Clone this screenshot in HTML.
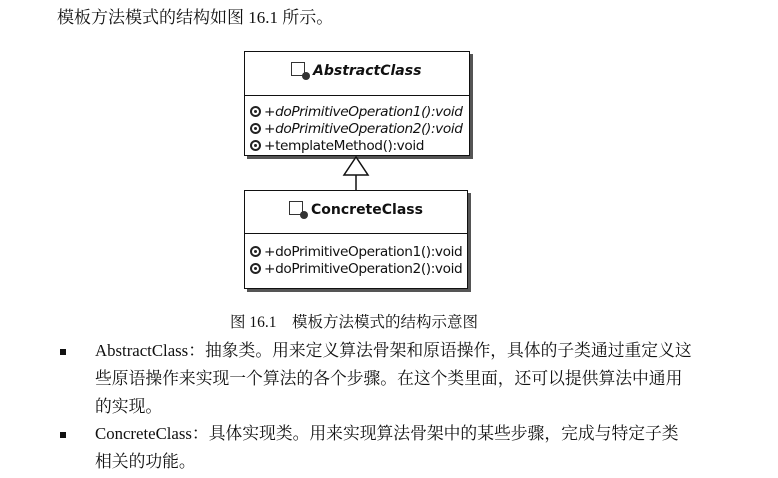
<!DOCTYPE html>
<html><head><meta charset="utf-8"><style>
body{margin:0;width:778px;height:478px;background:#fff;position:relative;overflow:hidden;font-family:"Liberation Serif","Noto Serif CJK SC",serif;color:#111}
.t{position:absolute;white-space:nowrap;font-size:16.8px}
.box{position:absolute;border:1.5px solid #111;background:#fff;box-shadow:3px 3px 0 #555}
.div{position:absolute;left:0;right:0;border-top:1.5px solid #111}
.uml{position:absolute;font-family:"DejaVu Sans",sans-serif;font-size:13.7px;white-space:nowrap;letter-spacing:-0.4px}
.ic{display:inline-block;width:11px;height:11px;border:2.5px solid #222;border-radius:50%;vertical-align:-1px;margin-right:3px;box-sizing:border-box;position:relative}
.ic:after{content:"";position:absolute;left:1.5px;top:1.5px;width:3px;height:3px;background:#222;border-radius:50%}
.ti{position:absolute;font-family:"DejaVu Sans",sans-serif;font-weight:bold;font-size:14px;white-space:nowrap}
.cl{display:inline-block;width:12px;height:12px;border:1px solid #333;margin-right:8px;vertical-align:-1px;position:relative}
.cl:after{content:"";position:absolute;right:-6px;bottom:-5px;width:8px;height:8px;border-radius:50%;background:#333}
.b{position:absolute;left:60px;width:6px;height:6px;background:#111}
</style></head><body>
<div class="t" style="left:57px;top:3px;font-size:17px">模板方法模式的结构如图 16.1 所示。</div>

<div class="box" style="left:244px;top:51px;width:224px;height:103px">
 <div class="ti" style="left:46px;top:10px;font-style:italic"><span class="cl"></span>AbstractClass</div>
 <div class="div" style="top:43px"></div>
 <div class="uml" style="left:5px;top:52px;font-style:italic"><span class="ic"></span>+doPrimitiveOperation1():void</div>
 <div class="uml" style="left:5px;top:69px;font-style:italic"><span class="ic"></span>+doPrimitiveOperation2():void</div>
 <div class="uml" style="left:5px;top:86px"><span class="ic"></span>+templateMethod():void</div>
</div>
<svg style="position:absolute;left:0;top:0" width="778" height="478">
 <polygon points="356,157 344,175 368,175" fill="#fff" stroke="#111" stroke-width="1.5"/>
 <line x1="356" y1="175" x2="356" y2="190" stroke="#111" stroke-width="1.5"/>
</svg>
<div class="box" style="left:244px;top:190px;width:222px;height:97px">
 <div class="ti" style="left:44px;top:10px"><span class="cl"></span>ConcreteClass</div>
 <div class="div" style="top:42px"></div>
 <div class="uml" style="left:5px;top:53px"><span class="ic"></span>+doPrimitiveOperation1():void</div>
 <div class="uml" style="left:5px;top:70px"><span class="ic"></span>+doPrimitiveOperation2():void</div>
</div>

<div class="t" style="left:230px;top:310px;font-size:15.5px">图 16.1　模板方法模式的结构示意图</div>

<div class="b" style="top:349px"></div>
<div class="t" style="left:95px;top:337px">AbstractClass：抽象类。用来定义算法骨架和原语操作，具体的子类通过重定义这</div>
<div class="t" style="left:95px;top:365px">些原语操作来实现一个算法的各个步骤。在这个类里面，还可以提供算法中通用</div>
<div class="t" style="left:95px;top:393px">的实现。</div>
<div class="b" style="top:432px"></div>
<div class="t" style="left:95px;top:420px">ConcreteClass：具体实现类。用来实现算法骨架中的某些步骤，完成与特定子类</div>
<div class="t" style="left:95px;top:448px">相关的功能。</div>
</body></html>
